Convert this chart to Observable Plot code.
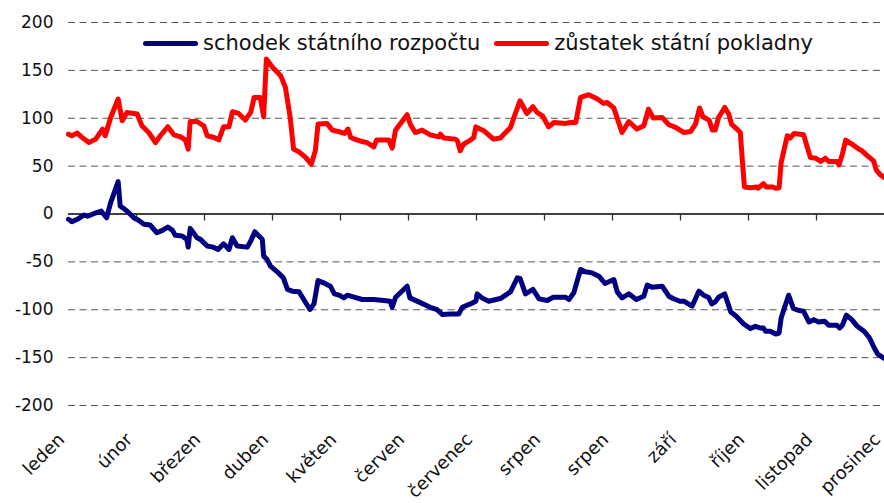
<!DOCTYPE html>
<html>
<head>
<meta charset="utf-8">
<script src="https://cdn.jsdelivr.net/npm/d3@7"></script>
<script src="https://cdn.jsdelivr.net/npm/@observablehq/plot@0.6"></script>
<style>
  html, body { margin: 0; padding: 0; background: #fff; }
  #wrap { position: relative; width: 884px; height: 503px; font-family: "DejaVu Sans", Verdana, sans-serif; }
  #legend { position: absolute; top: 31px; left: 143px; display: flex; align-items: center; font-size: 21px; color: #111; white-space: nowrap; }
  #legend .item { display: flex; align-items: center; }
  #legend .sw { display: inline-block; width: 55px; height: 5px; border-radius: 3px; margin-right: 5px; }
  #legend .gap { width: 14px; }
</style>
</head>
<body>
<div id="wrap"><div id="legend"></div></div>
<script>
// Month labels (as in the original, incl. the repeated "srpen")
const monthLabels = ["leden","únor","březen","duben","květen","červen","červenec","srpen","srpen","září","říjen","listopad","prosinec"];
const seriesNames = ["schodek státního rozpočtu", "zůstatek státní pokladny"];
const seriesColors = ["#000080", "#ff0000"];
const yTicks = [200,150,100,50,0,-50,-100,-150,-200];

// time position in months from start of year
const deficitT = [0.00,0.05,0.13,0.23,0.28,0.37,0.48,0.56,0.62,0.73,0.76,0.86,0.96,1.03,1.11,1.20,1.30,1.38,1.46,1.53,1.57,1.67,1.74,1.76,1.79,1.89,1.94,2.04,2.13,2.20,2.28,2.36,2.41,2.48,2.63,2.68,2.74,2.85,2.87,2.92,2.97,3.07,3.16,3.22,3.29,3.39,3.46,3.55,3.61,3.67,3.75,3.85,3.91,3.98,4.05,4.10,4.20,4.32,4.49,4.64,4.73,4.76,4.81,4.98,5.02,5.15,5.32,5.42,5.50,5.62,5.74,5.79,5.91,5.99,6.01,6.08,6.18,6.35,6.50,6.60,6.64,6.72,6.83,6.92,7.04,7.13,7.31,7.36,7.43,7.53,7.60,7.70,7.80,7.89,8.02,8.07,8.14,8.24,8.35,8.46,8.51,8.58,8.73,8.83,8.89,8.99,9.05,9.17,9.27,9.34,9.41,9.46,9.51,9.56,9.65,9.74,9.82,9.93,10.03,10.10,10.17,10.22,10.25,10.32,10.40,10.45,10.48,10.59,10.66,10.74,10.81,10.89,10.96,11.03,11.12,11.18,11.30,11.34,11.38,11.44,11.52,11.60,11.70,11.78,11.85,11.90,11.99];
const deficitV = [-5.5,-8,-5.5,-1,-2.4,0.3,3.1,-3.9,11.8,33.8,8.4,3.1,-3.9,-6.6,-10.8,-11.5,-19.6,-17.1,-13.6,-17.1,-22.3,-23,-26.5,-34.6,-15,-24.8,-26.5,-33.5,-34.6,-37,-31.1,-37,-24.8,-33.5,-34.6,-28.3,-18.5,-26.5,-44,-47.4,-54.4,-60.4,-66.7,-78.8,-80.6,-81.3,-89.3,-99.8,-93.9,-69.4,-71.9,-75.4,-83.4,-84.8,-87.6,-84.8,-86.9,-89.3,-89.3,-90.4,-91.1,-97.4,-86.9,-75.4,-87.6,-91.8,-97.4,-99.8,-105,-104.4,-104.4,-97.4,-93.9,-91.1,-83.4,-87.6,-91.1,-88.3,-81.3,-66.7,-67.3,-83.4,-78.8,-88.6,-90.4,-86.9,-86.9,-89.3,-82.4,-57.9,-60.4,-61.5,-64.9,-72.6,-68.4,-81.3,-87.6,-83.4,-89.3,-85.9,-74.3,-76.4,-75.4,-85.9,-88.3,-91.1,-91.1,-96.3,-80.6,-84.8,-86.9,-93.9,-91.8,-86.9,-83.4,-102.3,-106.8,-114.9,-119.7,-117.3,-119,-119,-122.5,-122.5,-125.3,-124.3,-108.6,-84.8,-98.7,-100.8,-101.6,-112.8,-110.3,-112.8,-112,-116.2,-116.2,-119,-116.2,-105.7,-110.3,-117.3,-122.5,-129.5,-140,-146.3,-150.5];

const treasuryT = [0.00,0.05,0.13,0.20,0.30,0.40,0.50,0.54,0.62,0.73,0.79,0.86,1.01,1.08,1.18,1.28,1.35,1.46,1.55,1.65,1.72,1.76,1.79,1.89,1.99,2.04,2.14,2.21,2.28,2.36,2.41,2.50,2.60,2.68,2.73,2.82,2.87,2.91,3.00,3.12,3.19,3.26,3.31,3.39,3.49,3.57,3.63,3.67,3.80,3.88,3.98,4.06,4.11,4.15,4.25,4.32,4.39,4.49,4.53,4.71,4.76,4.81,4.98,5.03,5.10,5.20,5.32,5.45,5.47,5.52,5.69,5.72,5.76,5.81,5.91,5.96,5.99,6.05,6.11,6.25,6.35,6.50,6.55,6.64,6.74,6.83,6.89,6.97,7.06,7.14,7.31,7.38,7.46,7.53,7.65,7.78,7.87,7.92,8.02,8.09,8.14,8.24,8.36,8.46,8.53,8.60,8.73,8.83,8.93,9.05,9.15,9.22,9.28,9.33,9.42,9.47,9.51,9.56,9.65,9.71,9.75,9.83,9.88,9.91,9.94,10.03,10.12,10.14,10.22,10.26,10.35,10.40,10.45,10.48,10.57,10.61,10.67,10.81,10.91,10.99,11.06,11.13,11.18,11.30,11.33,11.38,11.43,11.52,11.62,11.67,11.75,11.84,11.88,11.94,12.00];
const treasuryV = [83.4,81.7,84.5,79.9,74.6,78.2,88.7,81.7,100.8,120.1,97.4,106.1,104.4,92.1,85.1,74.6,81.7,91.1,82.7,80.6,77.2,67.8,96.6,96.6,92.1,81.7,79.9,77.5,91.1,91.1,106.8,105,98.1,106.1,121.8,121.8,101.6,162,153.3,144.5,132.3,100.8,67.8,64.9,58.9,52,66,93.9,94.6,87.6,85.9,84.1,88.7,79.9,77.2,75.7,74.6,70.1,77.2,77.2,68.8,87.6,103.7,93.2,85.1,87.6,82.7,80.6,83.4,79.3,78.2,76.4,66,73,77.2,79.9,91,88.7,86.9,78.2,79.3,90.4,100.8,118.3,105,112,106.1,102.6,91.1,95.6,94.6,95.6,95.6,121.8,124.6,120.1,115.5,116.5,110.7,95.6,85.1,96.6,88.7,92.1,109.6,100.2,100.8,93.2,90.4,85.1,86.2,93.9,110.7,101.6,98.1,87.6,87.6,100.8,111.3,104.4,93.9,88.7,85.1,55.5,28.3,27.5,28.3,26.9,31.7,28.3,28.3,26.9,27.5,53.7,81.7,79.3,84.1,82.7,58.9,58.3,54.8,58.3,54.8,54.8,51.3,62.5,77.2,73,67.8,66,60.7,55.5,45.8,40.8,38];

const deficit = deficitT.map((t, i) => ({t, v: deficitV[i]}));
const treasury = treasuryT.map((t, i) => ({t, v: treasuryV[i]}));
const monthIdx = d3.range(monthLabels.length);
const gridVals = yTicks.filter(d => d !== 0);

const font = "DejaVu Sans, Verdana, sans-serif";

const chart = Plot.plot({
  width: 884,
  height: 503,
  marginLeft: 68,
  marginRight: 0,
  marginTop: 22,
  marginBottom: 98,
  style: {fontFamily: font, fontSize: "17px", color: "#111", background: "#fff"},
  x: {domain: [0, 12], axis: null},
  y: {domain: [-200, 200], axis: null},
  marks: [
    Plot.ruleY(gridVals, {stroke: "#555", strokeWidth: 1, strokeDasharray: "7,4.5"}),
    Plot.axisY({ticks: yTicks, tickSize: 0, tickPadding: 15, fontSize: 17, fill: "#111", label: null, tickFormat: d => String(d)}),
    Plot.ruleY([0], {stroke: "#000", strokeWidth: 1.3}),
    Plot.ruleX(monthIdx.slice(1, -1), {x: d => d, y1: 0, y2: 0, insetBottom: -7, stroke: "#333", strokeWidth: 1.3}),
    Plot.line(treasury, {x: "t", y: "v", stroke: seriesColors[1], strokeWidth: 5, strokeLinejoin: "round", strokeLinecap: "round"}),
    Plot.line(deficit, {x: "t", y: "v", stroke: seriesColors[0], strokeWidth: 5, strokeLinejoin: "round", strokeLinecap: "round"}),
    Plot.text(monthIdx, {x: d => d, frameAnchor: "bottom", text: d => monthLabels[d], rotate: -45, textAnchor: "end", lineAnchor: "middle", dx: -7, dy: 31, fontSize: 18, fill: "#111"})
  ]
});

const wrap = document.getElementById("wrap");
wrap.insertBefore(chart, wrap.firstChild);

const legend = document.getElementById("legend");
seriesNames.forEach((name, i) => {
  if (i > 0) { const g = document.createElement("span"); g.className = "gap"; legend.appendChild(g); }
  const item = document.createElement("span");
  item.className = "item";
  const sw = document.createElement("span");
  sw.className = "sw";
  sw.style.background = seriesColors[i];
  item.appendChild(sw);
  const tx = document.createElement("span");
  tx.textContent = name;
  item.appendChild(tx);
  legend.appendChild(item);
});
</script>
</body>
</html>
